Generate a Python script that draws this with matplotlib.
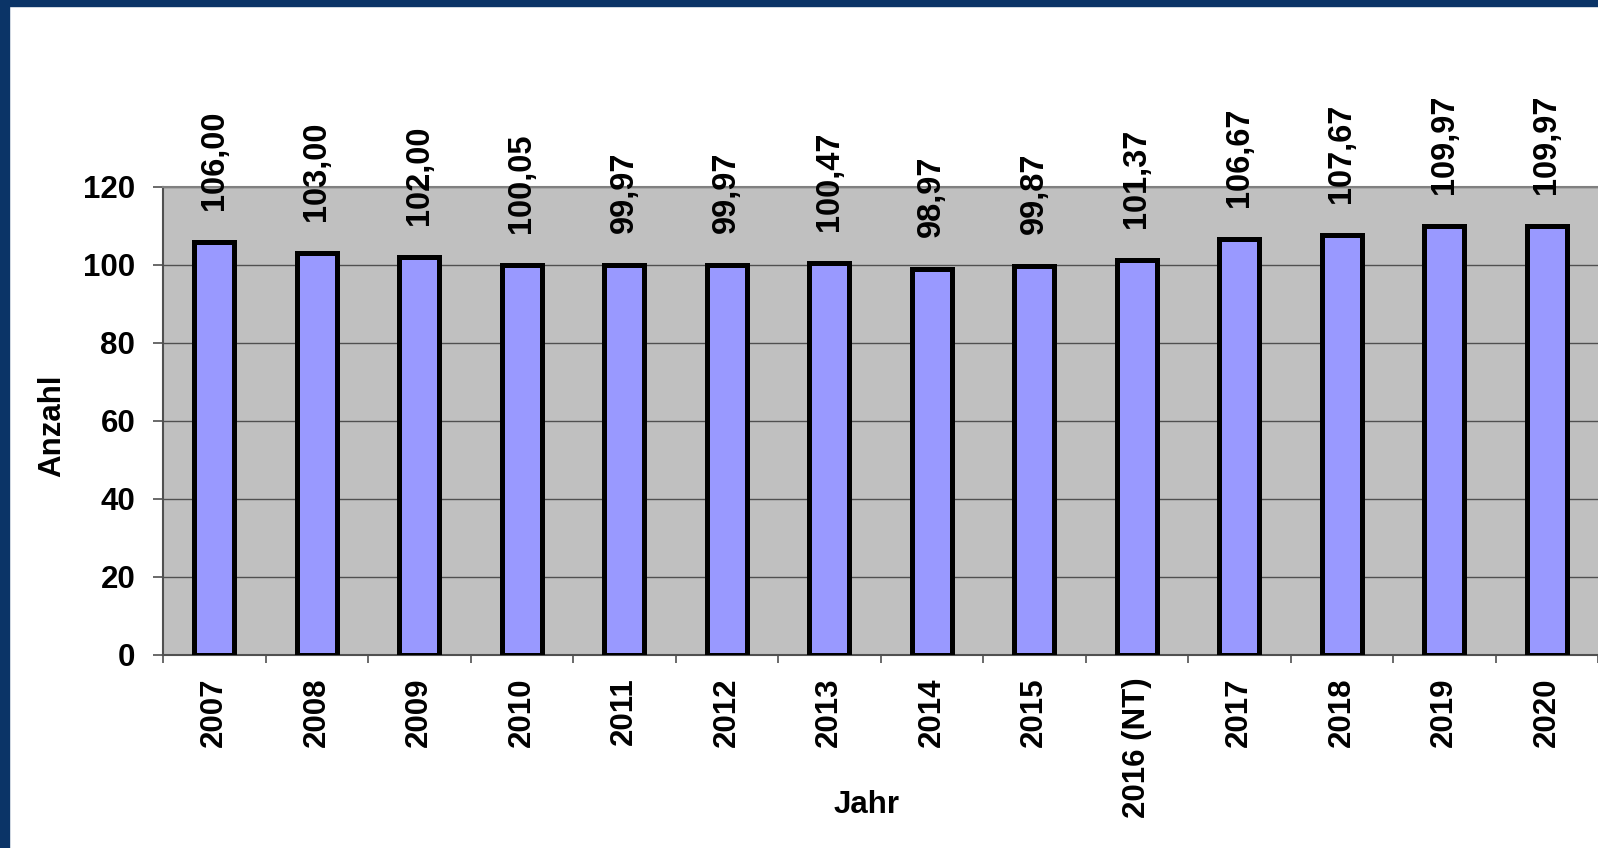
import matplotlib.pyplot as plt
from matplotlib.patches import Rectangle

# Data
jahre = ["2007", "2008", "2009", "2010", "2011", "2012", "2013", "2014",
         "2015", "2016 (NT)", "2017", "2018", "2019", "2020"]
anzahl = [106.00, 103.00, 102.00, 100.05, 99.97, 99.97, 100.47, 98.97,
          99.87, 101.37, 106.67, 107.67, 109.97, 109.97]

plt.rcParams['font.family'] = ['Liberation Sans', 'DejaVu Sans']
plt.rcParams['font.weight'] = 'bold'

fig = plt.figure(figsize=(15.98, 8.48), dpi=100)
fig.patch.set_facecolor("white")

# navy slide frame on the left and top edges
navy = "#0b3467"
fig.add_artist(Rectangle((0, 0), 9 / 1598, 1, transform=fig.transFigure,
                         color=navy, zorder=0))
fig.add_artist(Rectangle((0, 1 - 6 / 848), 1, 6 / 848, transform=fig.transFigure,
                         color=navy, zorder=0))

ax = fig.add_axes([163 / 1598, 193 / 848, 1435 / 1598, 468 / 848])
ax.set_facecolor("#c0c0c0")

x = list(range(len(jahre)))
ax.bar(x, anzahl, width=0.39, color="#9999ff", edgecolor="black",
       linewidth=3.6, zorder=3)

for xi, v in zip(x, anzahl):
    ax.annotate(f"{v:.2f}".replace(".", ","), xy=(xi, v), xytext=(0, 23),
                textcoords="offset points", rotation=90, ha="center",
                va="bottom", fontsize=23.5, fontweight="bold", clip_on=False)

ax.set_xlim(-0.5, len(jahre) - 0.5)
ax.set_ylim(0, 120)
ax.set_yticks(range(0, 121, 20))
ax.yaxis.grid(True, color="#505050", linewidth=1.0, zorder=1)
ax.set_axisbelow(True)

ax.set_xticks(x)
ax.set_xticklabels(jahre, rotation=90, fontsize=22.5, fontweight="bold")
ax.set_xticks([i - 0.5 for i in range(len(jahre) + 1)], minor=True)
ax.tick_params(axis="x", which="major", length=0, pad=16)
ax.tick_params(axis="x", which="minor", length=6, width=1.2, color="#505050")
ax.tick_params(axis="y", length=7, width=1.2, color="#505050", pad=13,
               labelsize=22.5)
for lab in ax.get_yticklabels():
    lab.set_fontweight("bold")

for side in ["left", "bottom"]:
    ax.spines[side].set_color("#505050")
    ax.spines[side].set_linewidth(1.5)
ax.spines["top"].set_color("#808080")
ax.spines["top"].set_linewidth(1.5)
ax.spines["right"].set_visible(False)

ax.set_ylabel("Anzahl", fontsize=22.5, fontweight="bold")
ax.yaxis.set_label_coords(-0.067, 0.49)
ax.set_xlabel("Jahr", fontsize=22.5, fontweight="bold")
ax.xaxis.set_label_coords(0.490, -0.288)

fig.savefig("out.png", dpi=100)
